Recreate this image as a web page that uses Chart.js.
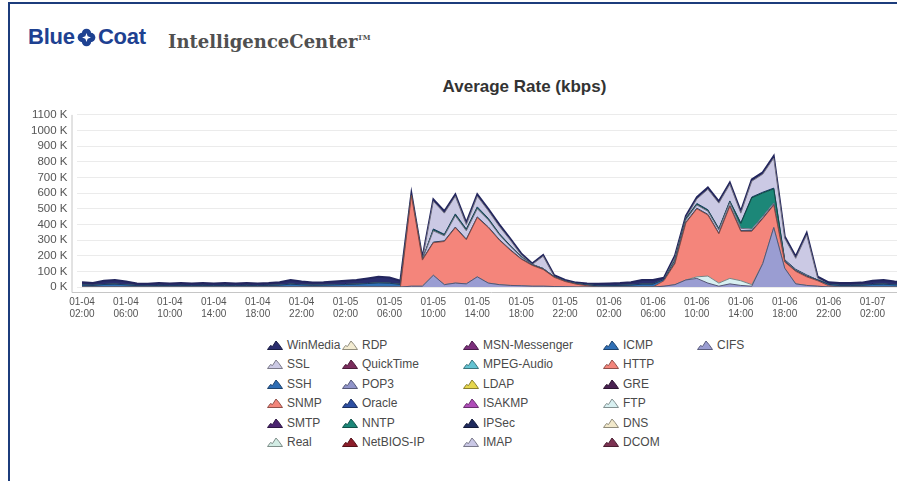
<!DOCTYPE html>
<html>
<head>
<meta charset="utf-8">
<script src="https://cdn.jsdelivr.net/npm/chart.js@4.4.1/dist/chart.umd.min.js"></script>
<style>
  body { margin: 0; width: 897px; height: 481px; overflow: hidden; background: #fff; position: relative;
         font-family: "Liberation Sans", Arial, sans-serif; }
  #frame { position: absolute; left: 8px; top: 2px; width: 900px; height: 490px;
           border-top: 2px solid #1c3c7c; border-left: 2px solid #1c3c7c; }
  #logo { position: absolute; left: 28px; top: 26px; font: bold 22px/22px "Liberation Sans", Arial, sans-serif;
          color: #1e4191; letter-spacing: -0.2px; display: flex; align-items: center; }
  #logo svg { margin: 0 2px 0 2px; }
  #product { position: absolute; left: 168px; top: 29px; font: bold 18px/17px "DejaVu Serif", serif; color: #505050; }
  #product sup { font-size: 7px; vertical-align: 8px; }
  #title { position: absolute; left: 0; width: 1049px; top: 78px; text-align: center;
           font: bold 17px/17px "Liberation Sans", Arial, sans-serif; color: #333; }
  #wrap { position: absolute; left: 0; top: 99px; width: 911px; height: 228px; }
  .item { position: absolute; font-size: 12px; line-height: 12px; color: #4a4a4a; white-space: nowrap; }
  .item svg { position: absolute; left: -20px; top: 1px; }
</style>
</head>
<body>
<div id="frame"></div>
<div id="logo">Blue<svg width="19" height="19" viewBox="0 0 18 18">
  <circle cx="5" cy="9" r="4.4" fill="#1e4191"/><circle cx="13" cy="9" r="4.4" fill="#1e4191"/>
  <circle cx="9" cy="5" r="4.4" fill="#1e4191"/><circle cx="9" cy="13" r="4.4" fill="#1e4191"/>
  <path d="M9 4.8 L10.1 7.9 L13.2 9 L10.1 10.1 L9 13.2 L7.9 10.1 L4.8 9 L7.9 7.9 Z" fill="#fff"/>
</svg>Coat</div>
<div id="product">IntelligenceCenter<sup>TM</sup></div>
<div id="title">Average Rate (kbps)</div>
<div id="wrap"><canvas id="chart"></canvas></div>
<div id="legend"></div>
<script>
// hourly samples, 01-04 02:00 .. 01-07 05:00
const hours = [
  '01-04 02:00','01-04 03:00','01-04 04:00','01-04 05:00','01-04 06:00','01-04 07:00','01-04 08:00','01-04 09:00',
  '01-04 10:00','01-04 11:00','01-04 12:00','01-04 13:00','01-04 14:00','01-04 15:00','01-04 16:00','01-04 17:00',
  '01-04 18:00','01-04 19:00','01-04 20:00','01-04 21:00','01-04 22:00','01-04 23:00',
  '01-05 00:00','01-05 01:00','01-05 02:00','01-05 03:00','01-05 04:00','01-05 05:00','01-05 06:00','01-05 07:00',
  '01-05 08:00','01-05 09:00','01-05 10:00','01-05 11:00','01-05 12:00','01-05 13:00','01-05 14:00','01-05 15:00',
  '01-05 16:00','01-05 17:00','01-05 18:00','01-05 19:00','01-05 20:00','01-05 21:00','01-05 22:00','01-05 23:00',
  '01-06 00:00','01-06 01:00','01-06 02:00','01-06 03:00','01-06 04:00','01-06 05:00','01-06 06:00','01-06 07:00',
  '01-06 08:00','01-06 09:00','01-06 10:00','01-06 11:00','01-06 12:00','01-06 13:00','01-06 14:00','01-06 15:00',
  '01-06 16:00','01-06 17:00','01-06 18:00','01-06 19:00','01-06 20:00','01-06 21:00','01-06 22:00','01-06 23:00',
  '01-07 00:00','01-07 01:00','01-07 02:00','01-07 03:00','01-07 04:00','01-07 05:00'
];

// protocols, bottom of the stack first
const protocols = ['CIFS','DCOM','DNS','FTP','GRE','HTTP','ICMP','IMAP','IPSec','ISAKMP','LDAP','MPEG-Audio',
  'MSN-Messenger','NetBIOS-IP','NNTP','Oracle','POP3','QuickTime','RDP','Real','SMTP','SNMP','SSH','SSL','WinMedia'];

// kbps / 1000 (K)
const none = [0,0,0,0,0,0,0,0,0,0, 0,0,0,0,0,0,0,0,0,0, 0,0,0,0,0,0,0,0,0,0, 0,0,0,0,0,0,0,0,0,0,
  0,0,0,0,0,0,0,0,0,0, 0,0,0,0,0,0,0,0,0,0, 0,0,0,0,0,0,0,0,0,0, 0,0,0,0,0,0];
const cifs = [0,0,0,0,0,0,0,0,0,0, 0,0,0,0,0,0,0,0,0,0, 0,0,0,0,0,0,0,0,0,0,
  5,5,75,15,25,20,65,25,15,10, 8,5,5,3,2,0,0,0,0,0, 0,0,0,5,15,45,55,25,5,20,
  10,5,150,380,120,20,10,5,0,0, 0,0,0,0,0,0];
const ftp = [0,0,0,0,0,0,0,0,0,0, 0,0,0,0,0,0,0,0,0,0, 0,0,0,0,0,0,0,0,0,0,
  0,0,0,0,0,0,0,0,0,0, 0,0,0,0,0,0,0,0,0,0, 0,0,0,0,0,0,10,45,20,35,
  30,10,0,0,0,0,0,0,0,0, 0,0,0,0,0,0];
const http = [0,0,0,0,0,0,0,0,0,0, 0,0,0,0,0,0,0,0,0,0, 0,0,0,0,0,0,0,0,0,0,
  580,167,208,276,354,282,379,355,285,225, 170,133,107,59,33,18,8,0,0,0, 0,0,0,35,135,365,435,390,315,461,
  316,341,287,143,40,80,55,35,8,0, 0,0,0,0,0,0];
const icmp = [12,10,16,18,14,9,8,10,9,10, 9,10,9,10,9,10,9,10,12,18, 14,11,12,14,16,18,22,26,24,16,
  3,3,4,4,4,4,4,4,4,4, 3,3,3,3,3,4,5,8,9,10, 12,18,18,8,4,4,4,4,4,4,
  4,4,4,4,4,4,4,5,9,10, 10,11,16,18,14,12];
const imap = [0,0,0,0,0,0,0,0,0,0, 0,0,0,0,0,0,0,0,0,0, 0,0,0,0,0,0,0,0,0,0,
  0,0,72,32,72,53,52,45,30,20, 10,3,3,0,0,0,0,0,0,0, 0,0,0,0,10,15,20,20,20,20,
  15,10,10,10,5,5,4,0,0,0, 0,0,0,0,0,0];
const nntp = [0,0,0,0,0,0,0,0,0,0, 0,0,0,0,0,0,0,0,0,0, 0,0,0,0,0,0,0,0,0,0,
  0,0,6,5,6,6,6,5,4,3, 2,0,0,0,0,0,0,0,0,0, 0,0,0,0,5,5,5,5,5,5,
  30,200,150,90,0,0,0,0,0,0, 0,0,0,0,0,0];
const ssh = [0,0,0,0,0,0,0,0,0,0, 0,0,0,0,0,0,0,0,0,0, 0,0,0,0,0,0,0,0,0,0,
  0,0,6,5,6,6,6,5,4,3, 2,0,0,0,0,0,0,0,0,0, 0,0,0,0,3,5,5,5,5,5,
  5,5,5,5,5,4,4,0,0,0, 0,0,0,0,0,0];
const ssl = [0,0,0,0,0,0,0,0,0,0, 0,0,0,0,0,0,0,0,0,0, 0,0,0,0,0,0,0,0,0,0,
  0,0,177,135,113,28,68,49,46,35, 10,0,79,2,0,0,0,0,0,0, 0,0,0,0,16,4,29,130,162,106,
  62,101,115,192,137,70,256,11,0,0, 0,0,0,0,0,0];
const winMedia = [18,15,24,27,21,13,12,15,13,15, 13,15,13,15,13,15,13,15,18,27, 21,17,18,21,24,27,33,39,36,24,
  10,10,12,12,12,12,12,12,12,10, 10,6,8,8,7,6,9,12,13,15, 18,27,27,12,12,12,12,12,12,12,
  12,12,12,14,12,12,12,10,13,15, 15,17,24,27,21,18];

const series = { CIFS: cifs, FTP: ftp, HTTP: http, ICMP: icmp, IMAP: imap, NNTP: nntp, SSH: ssh, SSL: ssl, WinMedia: winMedia };

const colors = {
  'CIFS': '#9a9dd2', 'DCOM': '#7c3252', 'DNS': '#f2e9cb', 'FTP': '#d8f0f1', 'GRE': '#4a2252', 'HTTP': '#f4857b',
  'ICMP': '#3070b6', 'IMAP': '#cac8e6', 'IPSec': '#1f2b5e', 'ISAKMP': '#b04db9', 'LDAP': '#e6d64c',
  'MPEG-Audio': '#63c3d2', 'MSN-Messenger': '#7c2f7c', 'NetBIOS-IP': '#8c1d2a', 'NNTP': '#1c8778',
  'Oracle': '#2d4fa2', 'POP3': '#9094c9', 'QuickTime': '#7b2d5d', 'RDP': '#f3ecd2', 'Real': '#d2ece4',
  'SMTP': '#4b2470', 'SNMP': '#f2857a', 'SSH': '#2e6db4', 'SSL': '#cbc9e4', 'WinMedia': '#2b2e6f'
};

function shade(hex, f) {
  const n = parseInt(hex.slice(1), 16);
  const c = [n >> 16, (n >> 8) & 255, n & 255].map(v => Math.round(v * f));
  return `rgb(${c.join(',')})`;
}

const datasets = protocols.map((p, i) => {
  const data = series[p] || none;
  const used = data.some(v => v > 0);
  return {
    label: p,
    data,
    backgroundColor: colors[p],
    borderColor: p === 'WinMedia' ? '#23265e' : shade(colors[p], 0.55),
    borderWidth: used ? (p === 'WinMedia' ? 2 : 1) : 0,
    fill: i === 0 ? 'origin' : '-1',
    pointRadius: 0,
    tension: 0
  };
});

const offsetAxes = {
  id: 'offsetAxes',
  afterDraw(chart) {
    const { ctx, chartArea: a } = chart;
    ctx.save();
    ctx.strokeStyle = '#c6c6c6';
    ctx.lineWidth = 1;
    ctx.beginPath();
    ctx.moveTo(a.left - 4.5, a.top);
    ctx.lineTo(a.left - 4.5, a.bottom + 5.5);
    ctx.lineTo(a.right, a.bottom + 5.5);
    ctx.stroke();
    ctx.restore();
  }
};

new Chart(document.getElementById('chart'), {
  type: 'line',
  data: { labels: hours, datasets },
  plugins: [offsetAxes],
  options: {
    responsive: true,
    maintainAspectRatio: false,
    animation: false,
    layout: { padding: { top: 6, right: 0, bottom: 4, left: 0 } },
    plugins: { legend: { display: false }, tooltip: { enabled: false } },
    scales: {
      x: {
        offset: true,
        grid: { display: false },
        border: { display: false },
        ticks: {
          autoSkip: false, maxRotation: 0, minRotation: 0, padding: 1, color: '#555',
          font: { family: '"Liberation Sans", Arial, sans-serif', size: 10, lineHeight: 1.2 },
          callback: (v, i) => i % 4 === 0 ? hours[i].split(' ') : ''
        },
        afterFit(s) { s.height = 36; }
      },
      y: {
        stacked: true, min: 0, max: 1100,
        border: { display: false },
        grid: { color: '#ebebeb', drawTicks: false },
        ticks: {
          stepSize: 100, autoSkip: false, padding: 9, color: '#555',
          font: { family: '"Liberation Sans", Arial, sans-serif', size: 11.5 },
          callback: v => v + ' K'
        },
        afterFit(s) { s.width = 76.5; }
      }
    }
  }
});

// legend: column-major, top of the stack first
const legend = document.getElementById('legend');
const colX = [287, 362, 483, 623, 717];
const rowY = [344.5, 364, 383.5, 403, 422.5, 442];
protocols.slice().reverse().forEach((p, i) => {
  const el = document.createElement('div');
  el.className = 'item';
  el.style.left = colX[Math.floor(i / 6)] + 'px';
  el.style.top = (rowY[i % 6] - 6) + 'px';
  el.innerHTML = `<svg width="16" height="10" viewBox="0 0 16 10">
    <polygon points="0.5,9.5 3.5,5.5 5.5,6.5 9,1 12,4.5 15.5,9.5" fill="${colors[p]}" stroke="${shade(colors[p], 0.6)}" stroke-width="1"/>
    </svg>${p}`;
  legend.appendChild(el);
});
</script>
</body>
</html>
